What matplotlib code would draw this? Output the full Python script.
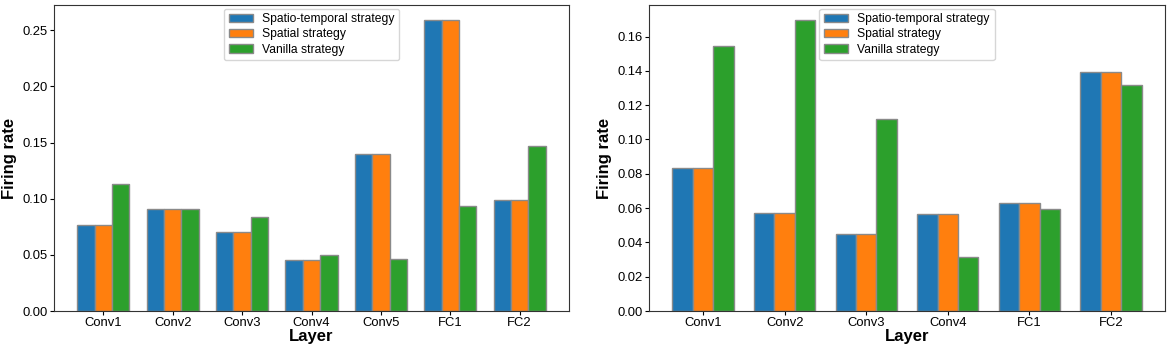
import numpy as np
import matplotlib
matplotlib.use('Agg')
import matplotlib.pyplot as plt

plt.rcParams['font.family'] = ['Liberation Sans', 'DejaVu Sans']

strategies = ['Spatio-temporal strategy', 'Spatial strategy', 'Vanilla strategy']
colors = ['#1f77b4', '#ff7f0e', '#2ca02c']

layers_a = ['Conv1', 'Conv2', 'Conv3', 'Conv4', 'Conv5', 'FC1', 'FC2']
st_a = [0.0762, 0.0907, 0.0706, 0.0457, 0.1397, 0.2595, 0.0988]
sp_a = [0.0762, 0.0907, 0.0706, 0.0457, 0.1397, 0.2595, 0.0988]
va_a = [0.1133, 0.0905, 0.0836, 0.0501, 0.0463, 0.0934, 0.1468]

layers_b = ['Conv1', 'Conv2', 'Conv3', 'Conv4', 'FC1', 'FC2']
st_b = [0.0834, 0.0574, 0.0448, 0.0568, 0.0632, 0.1396]
sp_b = [0.0834, 0.0574, 0.0448, 0.0568, 0.0632, 0.1396]
va_b = [0.1543, 0.1699, 0.1119, 0.0314, 0.0593, 0.1315]

fig = plt.figure(figsize=(11.69, 3.49), dpi=100)
ax1 = fig.add_axes([54 / 1169, 38 / 349, 515 / 1169, 306 / 349])
ax2 = fig.add_axes([649 / 1169, 38 / 349, 516 / 1169, 306 / 349])

w = 0.25
for ax, layers, series in [(ax1, layers_a, [st_a, sp_a, va_a]),
                           (ax2, layers_b, [st_b, sp_b, va_b])]:
    x = np.arange(len(layers))
    for i, (vals, name, c) in enumerate(zip(series, strategies, colors)):
        ax.bar(x + (i - 1) * w, vals, w, color=c, edgecolor='#8a8a8a',
               linewidth=1, label=name)
    ax.set_xticks(x)
    ax.set_xticklabels(layers)
    ax.tick_params(labelsize=9.4, length=3, pad=1.5)
    ax.set_xlabel('Layer', fontsize=12, fontweight='bold', labelpad=0)
    ax.set_ylabel('Firing rate', fontsize=12, fontweight='bold', labelpad=4)
    for s in ax.spines.values():
        s.set_color('#333333')
    ax.legend(loc='upper center', fontsize=8.7, labelspacing=0.25,
              handletextpad=0.75, borderaxespad=0.3)

ax2.set_yticks(np.arange(0, 0.17, 0.02))

plt.savefig('out.png', dpi=100)
